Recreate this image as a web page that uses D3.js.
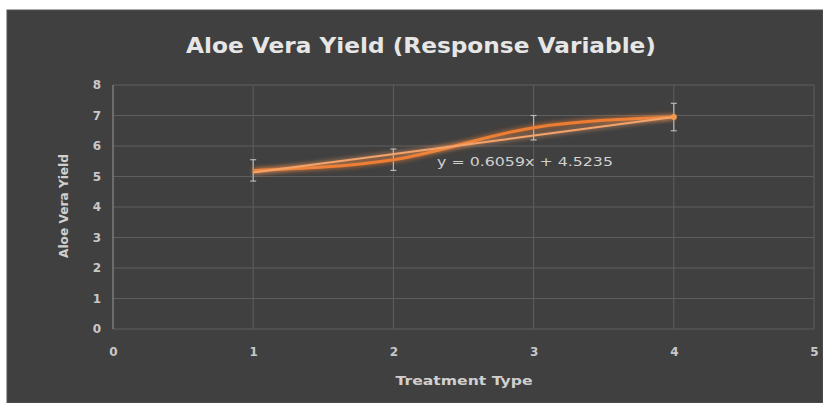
<!DOCTYPE html>
<html><head><meta charset="utf-8">
<script src="https://cdn.jsdelivr.net/npm/d3@7"></script>
<style>html,body{margin:0;padding:0;background:#fff;}svg{display:block;}</style>
</head><body>
<script>
const treatments = [1, 2, 3, 4];
const yieldValues = [5.2, 5.55, 6.6, 6.95];
const errorValues = [0.35, 0.35, 0.4, 0.45];
const xTicks = [0, 1, 2, 3, 4, 5];
const yTicks = [0, 1, 2, 3, 4, 5, 6, 7, 8];
const trendSlope = 0.6059;
const trendIntercept = 4.5235;
const titleText = "Aloe Vera Yield (Response Variable)";
const xTitle = "Treatment Type";
const yTitle = "Aloe Vera Yield";

const W = 823, H = 403;
const svg = d3.select("body").append("svg").attr("width", W).attr("height", H);
const defs = svg.append("defs");
const glow = defs.append("filter").attr("id", "glow").attr("x", "-20%").attr("y", "-50%").attr("width", "140%").attr("height", "200%");
glow.append("feGaussianBlur").attr("stdDeviation", 2.5).attr("result", "b");
const fm = glow.append("feMerge");
fm.append("feMergeNode").attr("in", "b");
fm.append("feMergeNode").attr("in", "SourceGraphic");

svg.append("rect").attr("x", 7).attr("y", 10).attr("width", W - 7).attr("height", H - 10)
  .attr("fill", "#404040").attr("stroke", "#555").attr("stroke-width", 1);

const x = d3.scaleLinear().domain([0, 5]).range([113, 814]);
const y = d3.scaleLinear().domain([0, 8]).range([329, 85]);

// gridlines
const g = svg.append("g");
g.selectAll(".hg").data(yTicks).join("line")
  .attr("x1", x(0)).attr("x2", x(5)).attr("y1", d => y(d)).attr("y2", d => y(d))
  .attr("stroke", "#5e5e5e").attr("stroke-width", 1);
g.selectAll(".vg").data(xTicks.slice(1)).join("line")
  .attr("x1", d => x(d)).attr("x2", d => x(d)).attr("y1", y(0)).attr("y2", y(8))
  .attr("stroke", "#5e5e5e").attr("stroke-width", 1);
g.append("line").attr("x1", x(0)).attr("x2", x(0)).attr("y1", y(0)).attr("y2", y(8))
  .attr("stroke", "#8a8a8a").attr("stroke-width", 1.2);

// axes (labels only)
const xAxis = svg.append("g").attr("transform", `translate(0,${y(0)})`)
  .call(d3.axisBottom(x).tickValues(xTicks).tickSize(0).tickPadding(18).tickFormat(d3.format("d")));
const yAxis = svg.append("g").attr("transform", `translate(${x(0)},0)`)
  .call(d3.axisLeft(y).tickValues(yTicks).tickSize(0).tickPadding(12).tickFormat(d3.format("d")));
[xAxis, yAxis].forEach(a => {
  a.select(".domain").remove();
  a.selectAll("text").attr("fill", "#c8c8c8").attr("font-family", "DejaVu Sans, sans-serif")
    .attr("font-size", 12).attr("font-weight", "bold");
});

// error bars
const eb = svg.append("g").attr("stroke", "#b8b8b8").attr("stroke-width", 1.2);
treatments.forEach((t, i) => {
  const cx = x(t), lo = y(yieldValues[i] - errorValues[i]), hi = y(yieldValues[i] + errorValues[i]);
  eb.append("line").attr("x1", cx).attr("x2", cx).attr("y1", lo).attr("y2", hi);
  eb.append("line").attr("x1", cx - 3).attr("x2", cx + 3).attr("y1", lo).attr("y2", lo);
  eb.append("line").attr("x1", cx - 3).attr("x2", cx + 3).attr("y1", hi).attr("y2", hi);
});

// data line
const pts = treatments.map((t, i) => [t, yieldValues[i]]);
const line = d3.line().x(d => x(d[0])).y(d => y(d[1])).curve(d3.curveMonotoneX);
svg.append("path").datum(pts).attr("d", line).attr("fill", "none")
  .attr("stroke", "#ed7d31").attr("stroke-width", 3).attr("filter", "url(#glow)");

// trendline
const trend = [1, 4].map(t => [t, trendSlope * t + trendIntercept]);
svg.append("path").datum(trend).attr("d", d3.line().x(d => x(d[0])).y(d => y(d[1])))
  .attr("fill", "none").attr("stroke", "#f4a36a").attr("stroke-width", 2).attr("filter", "url(#glow)");

svg.append("circle").attr("cx", x(4)).attr("cy", y(yieldValues[3])).attr("r", 3).attr("fill", "#f39a4f");

// equation
svg.append("text").attr("x", 437).attr("y", 166)
  .attr("fill", "#d0d0d0").attr("font-family", "DejaVu Sans, sans-serif").attr("font-size", 12.5)
  .attr("textLength", 176).attr("lengthAdjust", "spacingAndGlyphs")
  .text(`y = ${trendSlope}x + ${trendIntercept}`);

// titles
svg.append("text").attr("x", 421).attr("y", 53).attr("text-anchor", "middle")
  .attr("fill", "#e6e6e6").attr("font-family", "DejaVu Sans, sans-serif").attr("font-weight", "bold")
  .attr("font-size", 21).attr("textLength", 470).attr("lengthAdjust", "spacingAndGlyphs").text(titleText);
svg.append("text").attr("x", 464).attr("y", 385).attr("text-anchor", "middle")
  .attr("fill", "#d0d0d0").attr("font-family", "DejaVu Sans, sans-serif").attr("font-weight", "bold")
  .attr("font-size", 13).attr("textLength", 137).attr("lengthAdjust", "spacingAndGlyphs").text(xTitle);
svg.append("text").attr("transform", "translate(68,206) rotate(-90)").attr("text-anchor", "middle")
  .attr("fill", "#d0d0d0").attr("font-family", "DejaVu Sans, sans-serif").attr("font-weight", "bold")
  .attr("font-size", 12).attr("textLength", 104).attr("lengthAdjust", "spacingAndGlyphs").text(yTitle);
</script>
</body></html>
